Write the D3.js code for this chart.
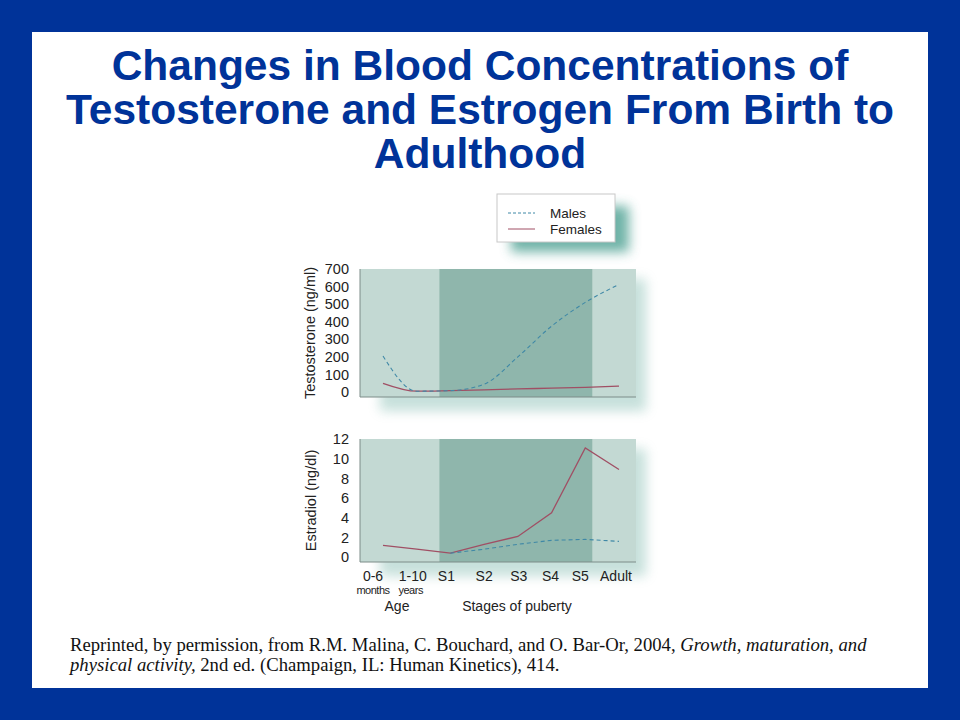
<!DOCTYPE html>
<html>
<head>
<meta charset="utf-8">
<script src="https://cdn.jsdelivr.net/npm/d3@7"></script>
<style>
  body { margin: 0; background: #003399; }
  svg { display: block; }
</style>
</head>
<body>
<svg id="slide" width="960" height="720"></svg>
<script>
// Categories along the x axis (shared by both panels)
const stages = ["0-6 months", "1-10 years", "S1", "S2", "S3", "S4", "S5", "Adult"];
const stageMain = ["0-6", "1-10", "S1", "S2", "S3", "S4", "S5", "Adult"];
const stageSub = ["months", "years", "", "", "", "", "", ""];

// Testosterone (ng/ml)
const testosteroneMales = [205, 5, 8, 45, 200, 375, 510, 612];
const testosteroneFemales = [50, 5, 8, 12, 18, 22, 27, 34];
const testosteroneTicks = [0, 100, 200, 300, 400, 500, 600, 700];

// Estradiol (ng/dl) - male line starts at S1
const estradiolMales = [null, null, 0.4, 0.8, 1.3, 1.7, 1.8, 1.6];
const estradiolFemales = [1.2, 0.8, 0.4, 1.3, 2.1, 4.5, 11.1, 8.9];
const estradiolTicks = [0, 2, 4, 6, 8, 10, 12];

const titleLines = [
  "Changes in Blood Concentrations of",
  "Testosterone and Estrogen From Birth to",
  "Adulthood"
];

const svg = d3.select("#slide");

// white slide area inside the blue border
svg.append("rect")
  .attr("x", 32).attr("y", 32)
  .attr("width", 896).attr("height", 656)
  .attr("fill", "#ffffff");

const defs = svg.append("defs");
defs.append("filter").attr("id", "glow")
  .attr("x", "-30%").attr("y", "-30%").attr("width", "160%").attr("height", "160%")
  .append("feGaussianBlur").attr("stdDeviation", 6);

// title
svg.append("g").selectAll("text")
  .data(titleLines)
  .enter().append("text")
  .attr("x", 480)
  .attr("y", (d, i) => 80 + i * 44)
  .attr("text-anchor", "middle")
  .attr("font-family", "Liberation Sans, Arial, sans-serif")
  .attr("font-weight", "bold")
  .attr("font-size", 42.5)
  .attr("fill", "#003399")
  .text(d => d);

// shared x scale
const x = d3.scalePoint().domain(stages).range([383, 619]);
const plotLeft = x(stages[0]) - 23;
const plotRight = x(stages[stages.length - 1]) + 17;
const darkLeft = x("S1") - 11;
const darkRight = x("S5") + 7;

const font = "Liberation Sans, Arial, sans-serif";

function drawPanel(cfg) {
  const g = svg.append("g");
  const y = cfg.y;
  const [bottom, top] = y.range();

  // soft teal glow around the panel
  g.append("rect")
    .attr("x", plotLeft + 20).attr("y", top + 10)
    .attr("width", plotRight - plotLeft - 10).attr("height", bottom - top + 4)
    .attr("fill", "#5fa89a").attr("opacity", 0.35)
    .attr("filter", "url(#glow)");

  g.append("rect")
    .attr("x", plotLeft).attr("y", top)
    .attr("width", plotRight - plotLeft).attr("height", bottom - top)
    .attr("fill", "#c3d9d3");
  g.append("rect")
    .attr("x", darkLeft).attr("y", top)
    .attr("width", darkRight - darkLeft).attr("height", bottom - top)
    .attr("fill", "#8fb6ac");

  // left and bottom frame
  g.append("path")
    .attr("d", `M${plotLeft},${top}V${bottom}H${plotRight}`)
    .attr("fill", "none")
    .attr("stroke", "#7d8c88")
    .attr("stroke-width", 1);

  // y axis tick labels
  const axis = g.append("g")
    .attr("transform", `translate(${plotLeft - 11},0)`)
    .call(d3.axisLeft(y).tickValues(cfg.ticks).tickSize(0).tickPadding(0));
  axis.select(".domain").remove();
  axis.selectAll("text")
    .attr("font-family", font)
    .attr("font-size", 14.5)
    .attr("fill", "#222");

  g.append("text")
    .attr("transform", `translate(${cfg.labelX},${(top + bottom) / 2}) rotate(-90)`)
    .attr("text-anchor", "middle")
    .attr("font-family", font)
    .attr("font-size", 14.5)
    .attr("fill", "#222")
    .text(cfg.label);

  const line = d3.line()
    .defined(d => d.v !== null)
    .x(d => x(d.s))
    .y(d => y(d.v))
    .curve(cfg.curve);

  const series = [
    { values: cfg.females, color: "#a04f64", dash: null, width: 1.3 },
    { values: cfg.males, color: "#3f88a6", dash: "4,3", width: 1.1 }
  ];
  g.selectAll(".series")
    .data(series)
    .enter().append("path")
    .attr("class", "series")
    .attr("d", s => line(stages.map((st, i) => ({ s: st, v: s.values[i] }))))
    .attr("fill", "none")
    .attr("stroke", s => s.color)
    .attr("stroke-width", s => s.width)
    .attr("stroke-dasharray", s => s.dash);

  return g;
}

drawPanel({
  y: d3.scaleLinear().domain([-28, 700]).range([397, 269]),
  ticks: testosteroneTicks,
  males: testosteroneMales,
  females: testosteroneFemales,
  label: "Testosterone (ng/ml)",
  labelX: 315,
  curve: d3.curveMonotoneX
});

drawPanel({
  y: d3.scaleLinear().domain([-0.5, 12]).range([562, 439]),
  ticks: estradiolTicks,
  males: estradiolMales,
  females: estradiolFemales,
  label: "Estradiol (ng/dl)",
  labelX: 316,
  curve: d3.curveLinear
});

// x category labels under the lower panel
const mainNudge = [-10, -4, -4, 0, 1, -1, -5, -3];
const subNudge = [-10, -6, 0, 0, 0, 0, 0, 0];
svg.append("g").selectAll("text")
  .data(stageMain)
  .enter().append("text")
  .attr("x", (d, i) => x(stages[i]) + mainNudge[i])
  .attr("y", 580.5)
  .attr("text-anchor", "middle")
  .attr("font-family", font).attr("font-size", 14).attr("fill", "#222")
  .text(d => d);
svg.append("g").selectAll("text")
  .data(stageSub.filter(d => d))
  .enter().append("text")
  .attr("x", (d, i) => x(stages[i]) + subNudge[i])
  .attr("y", 594)
  .attr("text-anchor", "middle")
  .attr("font-family", font).attr("font-size", 11)
  .attr("letter-spacing", -0.5).attr("fill", "#222")
  .text(d => d);

svg.append("text")
  .attr("x", 397).attr("y", 611)
  .attr("text-anchor", "middle")
  .attr("font-family", font).attr("font-size", 14).attr("fill", "#222")
  .text("Age");
svg.append("text")
  .attr("x", 517).attr("y", 611)
  .attr("text-anchor", "middle")
  .attr("font-family", font).attr("font-size", 14).attr("fill", "#222")
  .text("Stages of puberty");

// legend
const legend = svg.append("g").attr("transform", "translate(497,194)");
legend.append("rect")
  .attr("x", 14).attr("y", 12)
  .attr("width", 118).attr("height", 46)
  .attr("fill", "#3f9a8a").attr("opacity", 0.75)
  .attr("filter", "url(#glow)");
legend.append("rect")
  .attr("width", 118).attr("height", 48)
  .attr("fill", "#ffffff")
  .attr("stroke", "#c8c8c8");
const legendItems = [
  { name: "Males", color: "#3f88a6", dash: "3,2" },
  { name: "Females", color: "#a04f64", dash: null }
];
const li = legend.selectAll(".item")
  .data(legendItems)
  .enter().append("g")
  .attr("class", "item")
  .attr("transform", (d, i) => `translate(0,${19 + i * 16})`);
li.append("line")
  .attr("x1", 11).attr("x2", 38)
  .attr("stroke", d => d.color)
  .attr("stroke-width", 1)
  .attr("stroke-dasharray", d => d.dash);
li.append("text")
  .attr("x", 53).attr("y", 4.5)
  .attr("font-family", font).attr("font-size", 13.5).attr("fill", "#222")
  .text(d => d.name);

// source note
const note = svg.append("g")
  .attr("font-family", "Liberation Serif, Times New Roman, serif")
  .attr("font-size", 18.7)
  .attr("fill", "#111");
const n1 = note.append("text").attr("x", 70).attr("y", 651);
n1.append("tspan").text("Reprinted, by permission, from R.M. Malina, C. Bouchard, and O. Bar-Or, 2004, ");
n1.append("tspan").attr("font-style", "italic").text("Growth, maturation, and");
const n2 = note.append("text").attr("x", 70).attr("y", 671);
n2.append("tspan").attr("font-style", "italic").text("physical activity,");
n2.append("tspan").text("  2nd ed. (Champaign, IL: Human Kinetics), 414.");
</script>
</body>
</html>
